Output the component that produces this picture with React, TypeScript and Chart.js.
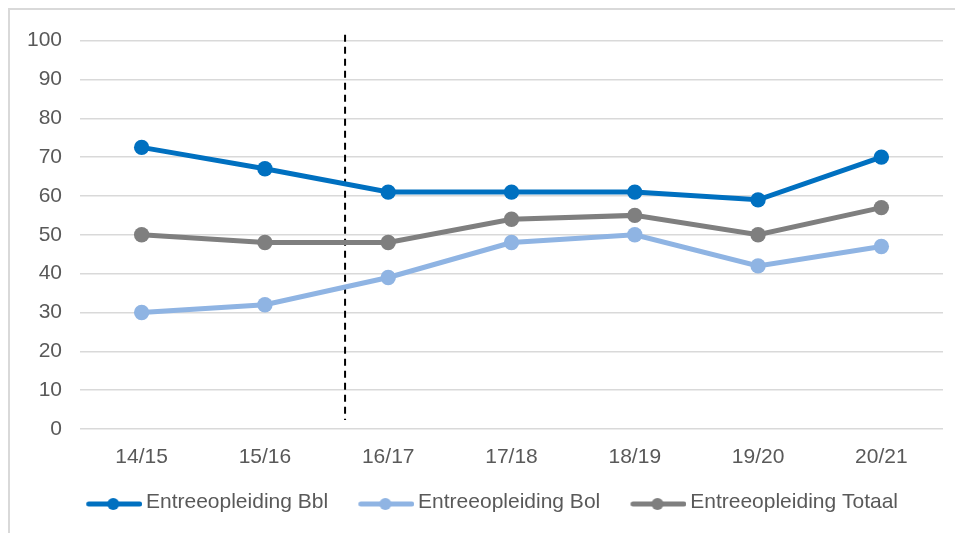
import React, { useEffect, useRef } from "react";
import { Chart, registerables } from "chart.js";

Chart.register(...registerables);

const categories = ["14/15", "15/16", "16/17", "17/18", "18/19", "19/20", "20/21"];
const bblValues = [72.5, 67, 61, 61, 61, 59, 70];
const bolValues = [30, 32, 39, 48, 50, 42, 47];
const totaalValues = [50, 48, 48, 54, 55, 50, 57];
const seriesNames = ["Entreeopleiding Bbl", "Entreeopleiding Bol", "Entreeopleiding Totaal"];
const seriesColors = ["#0070C0", "#8FB4E3", "#7F7F7F"];
const yMin = 0;
const yMax = 100;
const yStep = 10;
// dashed divider, in category-index units, between 15/16 and 16/17
const dividerPosition = 1.65;
const dividerFrom = 2.3;
const dividerTo = 101.5;

const FONT = "'Liberation Sans', Arial, sans-serif";
const TEXT = "#595959";

function makeIcon(color: string): HTMLCanvasElement {
  const c = document.createElement("canvas");
  c.width = 81;
  c.height = 20;
  const g = c.getContext("2d")!;
  g.strokeStyle = color;
  g.lineWidth = 5;
  g.lineCap = "round";
  g.beginPath();
  g.moveTo(27.5, 12);
  g.lineTo(78.5, 12);
  g.stroke();
  g.fillStyle = color;
  g.beginPath();
  g.arc(52, 12, 6, 0, Math.PI * 2);
  g.fill();
  return c;
}

const dividerPlugin = {
  id: "divider",
  beforeDatasetsDraw(chart: any) {
    const ctx = chart.ctx;
    const x = chart.scales.x.getPixelForValue(dividerPosition);
    const yTop = chart.scales.y.getPixelForValue(dividerTo);
    const yBot = chart.scales.y.getPixelForValue(dividerFrom);
    ctx.save();
    ctx.strokeStyle = "#000000";
    ctx.lineWidth = 2;
    ctx.setLineDash([7, 5]);
    ctx.beginPath();
    ctx.moveTo(x, yTop);
    ctx.lineTo(x, yBot);
    ctx.stroke();
    ctx.restore();
  },
};

export default function App() {
  const ref = useRef<HTMLCanvasElement>(null);

  useEffect(() => {
    if (!ref.current) return;
    const icons = seriesColors.map(makeIcon);
    const values = [bblValues, bolValues, totaalValues];
    const chart = new Chart(ref.current, {
      type: "line",
      data: {
        labels: categories,
        datasets: seriesNames.map((name, i) => ({
          label: name,
          data: values[i],
          borderColor: seriesColors[i],
          backgroundColor: seriesColors[i],
          borderWidth: 5,
          pointRadius: 7.7,
          pointHoverRadius: 7.7,
          pointBorderWidth: 0,
          pointBackgroundColor: seriesColors[i],
          tension: 0,
          fill: false,
        })),
      },
      options: {
        responsive: false,
        animation: false,
        layout: { padding: { left: 13, right: 20, top: 29, bottom: 10.5 } },
        scales: {
          x: {
            offset: true,
            grid: { display: false },
            border: { display: false },
            ticks: { color: TEXT, font: { family: FONT, size: 21 }, padding: 8, maxRotation: 0 },
            afterFit: (s: any) => {
              s.height = 50.5;
            },
          },
          y: {
            min: yMin,
            max: yMax,
            grid: { color: "#D9D9D9", lineWidth: 1.5, drawTicks: false },
            border: { display: false },
            ticks: { stepSize: yStep, color: TEXT, font: { family: FONT, size: 21 }, padding: 18 },
            afterFit: (s: any) => {
              s.width = 57;
            },
          },
        },
        plugins: {
          tooltip: { enabled: false },
          legend: {
            position: "bottom",
            labels: {
              usePointStyle: true,
              pointStyleWidth: 67.5,
              padding: 12,
              color: TEXT,
              font: { family: FONT, size: 21 },
              generateLabels: (c: any) =>
                Chart.defaults.plugins.legend.labels
                  .generateLabels(c)
                  .map((l: any, i: number) => ({ ...l, pointStyle: icons[i], fontColor: TEXT })),
            },
          },
        },
      },
      plugins: [dividerPlugin],
    } as any);
    return () => chart.destroy();
  }, []);

  return (
    <div
      style={{
        width: 953,
        height: 523,
        borderTop: "2px solid #D9D9D9",
        borderLeft: "2px solid #D9D9D9",
        overflow: "hidden",
      }}
    >
      <canvas ref={ref} width={953} height={523} style={{ display: "block" }} />
    </div>
  );
}
